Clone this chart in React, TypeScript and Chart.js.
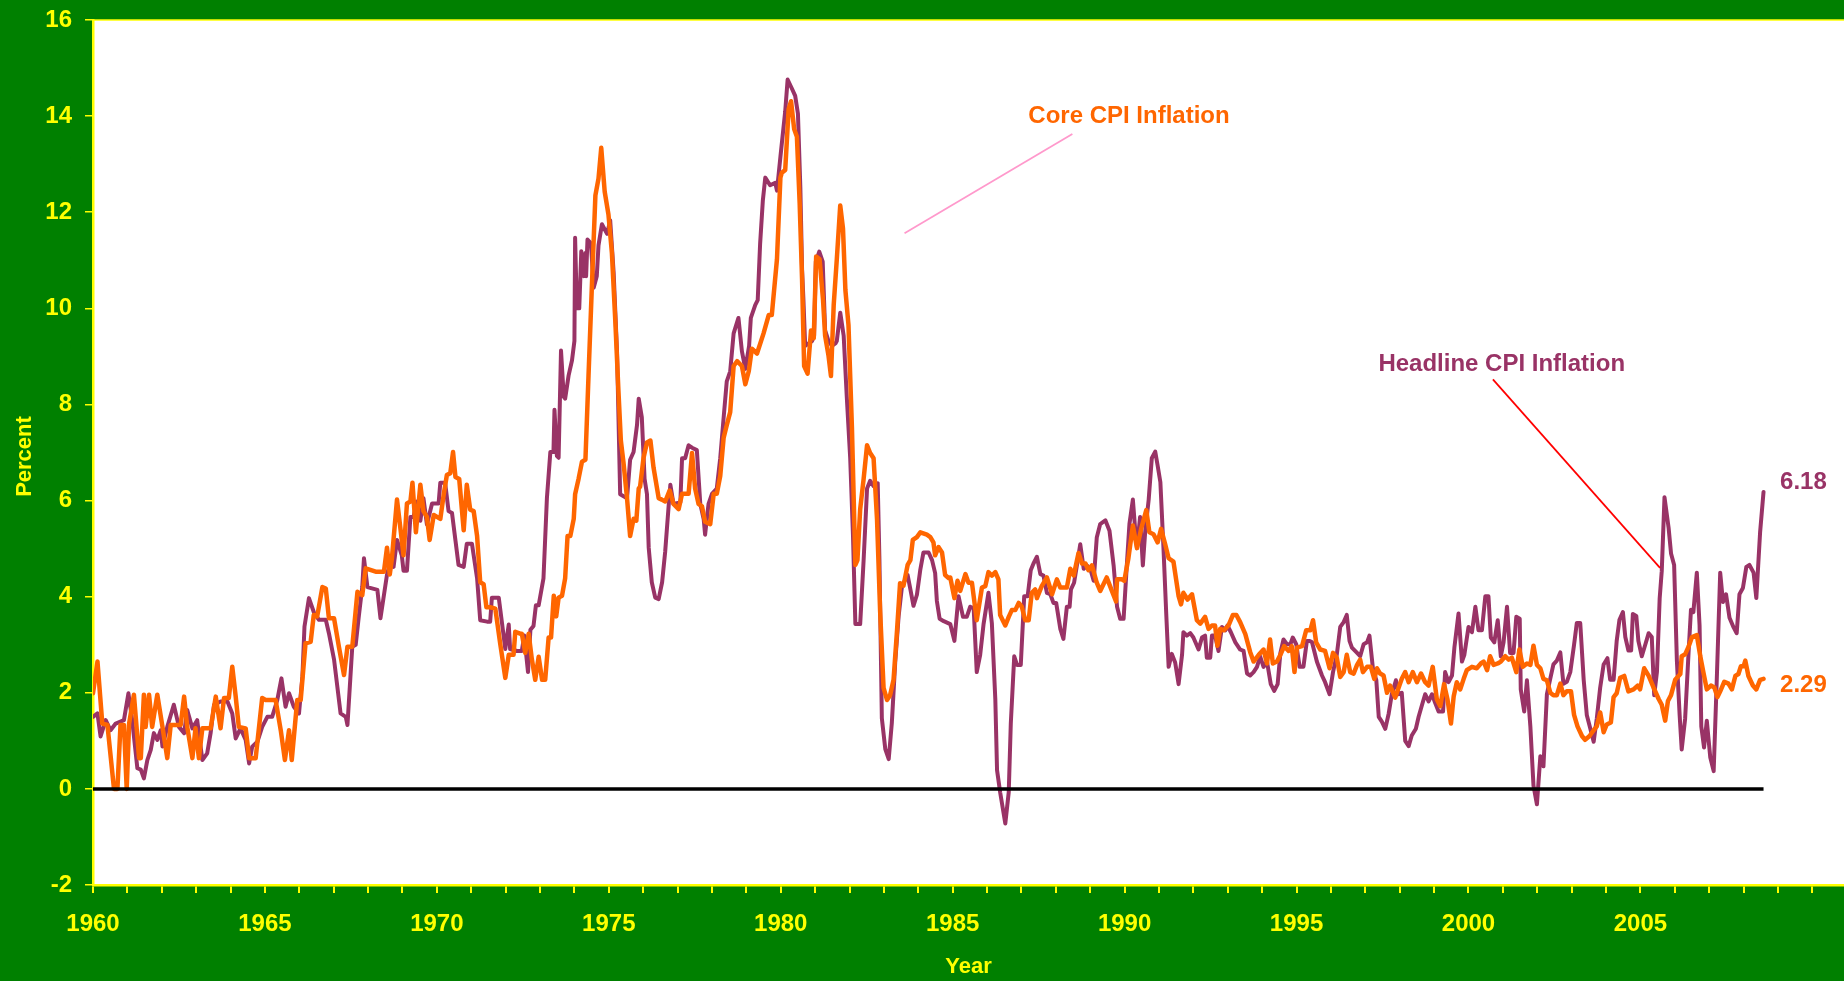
import React, { useEffect, useRef } from "react";
import { Chart, registerables } from "chart.js";

Chart.register(...registerables);

const W = 1844;
const H = 981;
const GREEN = "#008000";
const YELLOW = "#FFFF00";
const PURPLE = "#993366";
const ORANGE = "#FF6600";
const FONT = "'Liberation Sans', Arial, Helvetica, sans-serif";

// Headline CPI inflation, [year, percent]
const headlineSeries: [number, number][] = [
  [1960.0, 1.5], [1960.13, 1.57], [1960.22, 1.09], [1960.37, 1.43], [1960.51, 1.22], [1960.66, 1.36], [1960.9, 1.43],
  [1961.03, 1.99], [1961.14, 1.43], [1961.29, 0.43], [1961.39, 0.4], [1961.48, 0.22], [1961.58, 0.6], [1961.68, 0.81],
  [1961.77, 1.16], [1961.87, 1.02], [1961.97, 1.22], [1962.02, 0.88], [1962.16, 1.29], [1962.35, 1.75], [1962.5, 1.29],
  [1962.65, 1.16], [1962.74, 1.64], [1962.89, 1.26], [1963.03, 1.43], [1963.18, 0.6], [1963.32, 0.74], [1963.42, 1.16],
  [1963.52, 1.75], [1963.71, 1.82], [1963.91, 1.82], [1964.05, 1.57], [1964.15, 1.05], [1964.29, 1.26], [1964.44, 1.02],
  [1964.54, 0.53], [1964.63, 0.88], [1964.78, 0.98], [1964.92, 1.29], [1965.07, 1.5], [1965.21, 1.5], [1965.36, 1.85],
  [1965.48, 2.3], [1965.6, 1.71], [1965.7, 1.99], [1965.84, 1.71], [1965.99, 1.57], [1966.09, 2.34], [1966.15, 3.38],
  [1966.28, 3.97], [1966.43, 3.66], [1966.57, 3.52], [1966.77, 3.52], [1966.86, 3.24], [1967.01, 2.69], [1967.2, 1.57],
  [1967.35, 1.5], [1967.4, 1.33], [1967.54, 2.96], [1967.64, 3.0], [1967.73, 3.59], [1967.83, 4.2], [1967.88, 4.8],
  [1967.98, 4.2], [1968.27, 4.14], [1968.36, 3.55], [1968.55, 4.46], [1968.64, 4.7], [1968.74, 4.62], [1968.84, 5.18],
  [1968.98, 4.86], [1969.03, 4.54], [1969.13, 4.54], [1969.23, 5.66], [1969.32, 5.66], [1969.42, 5.98], [1969.52, 5.58],
  [1969.61, 6.05], [1969.71, 5.5], [1969.86, 5.94], [1970.05, 5.94], [1970.1, 6.37], [1970.24, 6.37], [1970.34, 5.78],
  [1970.44, 5.74], [1970.63, 4.66], [1970.78, 4.62], [1970.87, 5.1], [1971.02, 5.1], [1971.17, 4.38], [1971.26, 3.51],
  [1971.46, 3.48], [1971.55, 3.48], [1971.6, 3.98], [1971.8, 3.98], [1971.99, 2.91], [1972.09, 3.42], [1972.13, 2.91],
  [1972.33, 2.87], [1972.47, 2.87], [1972.54, 3.19], [1972.65, 2.43], [1972.72, 3.31], [1972.81, 3.39], [1972.88, 3.82],
  [1972.96, 3.82], [1973.1, 4.38], [1973.2, 6.05], [1973.3, 7.01], [1973.39, 7.01], [1973.42, 7.89], [1973.49, 6.93],
  [1973.54, 6.89], [1973.61, 9.12], [1973.69, 8.16], [1973.73, 8.12], [1973.83, 8.6], [1973.93, 8.92], [1974.0, 9.32],
  [1974.02, 11.47], [1974.07, 10.0], [1974.14, 10.0], [1974.2, 11.19], [1974.27, 10.67], [1974.32, 11.15], [1974.34, 10.67],
  [1974.38, 11.43], [1974.48, 11.35], [1974.56, 10.43], [1974.65, 10.67], [1974.7, 11.31], [1974.8, 11.75], [1974.95, 11.55],
  [1975.04, 11.83], [1975.14, 10.75], [1975.24, 9.08], [1975.33, 6.13], [1975.43, 6.09], [1975.53, 6.05], [1975.62, 6.85],
  [1975.72, 7.01], [1975.82, 7.57], [1975.87, 8.12], [1975.96, 7.73], [1976.04, 6.45], [1976.11, 6.13], [1976.16, 5.02],
  [1976.25, 4.3], [1976.35, 3.98], [1976.45, 3.95], [1976.55, 4.3], [1976.64, 4.94], [1976.74, 5.89], [1976.79, 6.33],
  [1976.88, 5.93], [1977.08, 5.96], [1977.13, 6.88], [1977.22, 6.88], [1977.32, 7.15], [1977.42, 7.1], [1977.56, 7.05],
  [1977.66, 5.93], [1977.76, 5.61], [1977.8, 5.29], [1977.9, 5.93], [1978.0, 6.14], [1978.14, 6.25], [1978.24, 6.88],
  [1978.34, 7.73], [1978.43, 8.48], [1978.53, 8.69], [1978.63, 9.48], [1978.77, 9.8], [1978.87, 9.11], [1978.97, 8.74],
  [1979.08, 9.22], [1979.13, 9.8], [1979.26, 10.07], [1979.33, 10.17], [1979.4, 11.34], [1979.48, 12.25], [1979.55, 12.72],
  [1979.69, 12.56], [1979.84, 12.61], [1979.89, 12.45], [1979.99, 13.15], [1980.13, 14.1], [1980.2, 14.76], [1980.32, 14.58],
  [1980.42, 14.42], [1980.5, 14.05], [1980.57, 12.51], [1980.62, 10.81], [1980.66, 10.17], [1980.71, 9.22], [1980.81, 9.27],
  [1980.91, 9.32], [1980.97, 9.43], [1981.02, 10.97], [1981.12, 11.18], [1981.22, 10.97], [1981.29, 9.54], [1981.39, 9.32],
  [1981.49, 9.22], [1981.59, 9.27], [1981.63, 9.32], [1981.73, 9.91], [1981.83, 9.43], [1981.92, 8.16], [1982.02, 6.88],
  [1982.1, 5.29], [1982.17, 3.43], [1982.31, 3.43], [1982.41, 4.76], [1982.51, 6.25], [1982.6, 6.41], [1982.7, 6.3],
  [1982.82, 6.36], [1982.87, 4.76], [1982.94, 1.47], [1983.04, 0.83], [1983.14, 0.62], [1983.23, 1.37], [1983.33, 2.65],
  [1983.43, 3.61], [1983.52, 4.18], [1983.62, 4.36], [1983.69, 4.45], [1983.77, 4.15], [1983.86, 3.81], [1983.96, 4.04],
  [1984.06, 4.57], [1984.15, 4.92], [1984.3, 4.92], [1984.4, 4.76], [1984.49, 4.49], [1984.54, 3.91], [1984.62, 3.54],
  [1984.74, 3.49], [1984.93, 3.43], [1985.05, 3.08], [1985.17, 4.01], [1985.3, 3.58], [1985.41, 3.58], [1985.51, 3.79],
  [1985.61, 3.76], [1985.7, 2.43], [1985.8, 2.79], [1985.9, 3.44], [1986.04, 4.08], [1986.14, 3.44], [1986.24, 1.86],
  [1986.29, 0.39], [1986.38, -0.07], [1986.53, -0.72], [1986.63, -0.07], [1986.69, 1.36], [1986.79, 2.76], [1986.87, 2.58],
  [1986.98, 2.58], [1987.08, 4.01], [1987.18, 4.01], [1987.27, 4.55], [1987.35, 4.69], [1987.45, 4.83], [1987.55, 4.47],
  [1987.64, 4.44], [1987.74, 4.08], [1987.84, 4.05], [1987.93, 3.87], [1988.01, 3.87], [1988.13, 3.33], [1988.22, 3.12],
  [1988.32, 3.79], [1988.4, 3.79], [1988.44, 4.15], [1988.53, 4.29], [1988.63, 4.73], [1988.71, 5.09], [1988.81, 4.58],
  [1988.9, 4.65], [1989.0, 4.58], [1989.1, 4.33], [1989.19, 5.23], [1989.29, 5.51], [1989.44, 5.59], [1989.56, 5.37],
  [1989.68, 4.65], [1989.78, 3.79], [1989.87, 3.54], [1989.97, 3.54], [1990.07, 4.73], [1990.14, 5.51], [1990.24, 6.02],
  [1990.31, 5.37], [1990.36, 5.01], [1990.45, 5.66], [1990.53, 4.65], [1990.6, 5.37], [1990.7, 6.02], [1990.79, 6.88],
  [1990.89, 7.02], [1990.96, 6.73], [1991.04, 6.38], [1991.13, 5.01], [1991.21, 3.65], [1991.28, 2.54], [1991.37, 2.81],
  [1991.47, 2.63], [1991.57, 2.18], [1991.67, 2.79], [1991.71, 3.26], [1991.81, 3.19], [1991.91, 3.24], [1992.0, 3.15],
  [1992.15, 2.9], [1992.25, 3.15], [1992.34, 3.19], [1992.39, 2.73], [1992.49, 2.73], [1992.54, 3.19], [1992.63, 3.19],
  [1992.73, 2.87], [1992.83, 3.37], [1992.93, 3.3], [1992.99, 3.4], [1993.09, 3.26], [1993.22, 3.05], [1993.36, 2.9],
  [1993.46, 2.87], [1993.56, 2.4], [1993.65, 2.36], [1993.75, 2.43], [1993.85, 2.54], [1993.94, 2.76], [1994.04, 2.54],
  [1994.14, 2.65], [1994.25, 2.18], [1994.35, 2.04], [1994.45, 2.18], [1994.53, 2.83], [1994.62, 3.11], [1994.72, 3.01],
  [1994.82, 3.01], [1994.89, 3.15], [1994.99, 3.01], [1995.09, 2.54], [1995.2, 2.54], [1995.3, 3.08], [1995.38, 3.08],
  [1995.45, 3.05], [1995.59, 2.65], [1995.74, 2.36], [1995.83, 2.22], [1995.96, 1.97], [1996.06, 2.43], [1996.17, 2.79],
  [1996.27, 3.37], [1996.37, 3.47], [1996.46, 3.62], [1996.54, 3.08], [1996.61, 2.94], [1996.76, 2.83], [1996.85, 2.76],
  [1996.95, 3.01], [1997.05, 3.05], [1997.12, 3.19], [1997.22, 2.51], [1997.32, 2.26], [1997.39, 1.5], [1997.48, 1.4],
  [1997.58, 1.25], [1997.68, 1.57], [1997.77, 1.97], [1997.89, 2.26], [1997.97, 1.97], [1998.06, 2.0], [1998.16, 1.0],
  [1998.26, 0.89], [1998.35, 1.11], [1998.47, 1.25], [1998.55, 1.5], [1998.65, 1.75], [1998.74, 1.97], [1998.84, 1.82],
  [1998.94, 1.97], [1999.03, 1.79], [1999.13, 1.61], [1999.26, 1.61], [1999.32, 2.43], [1999.42, 2.22], [1999.52, 2.36],
  [1999.59, 2.94], [1999.71, 3.65], [1999.81, 2.65], [1999.88, 2.79], [2000.0, 3.37], [2000.1, 3.26], [2000.2, 3.79],
  [2000.29, 3.3], [2000.39, 3.3], [2000.49, 4.01], [2000.58, 4.01], [2000.65, 3.15], [2000.75, 3.05], [2000.85, 3.51],
  [2000.94, 2.76], [2001.02, 3.05], [2001.12, 3.79], [2001.21, 2.83], [2001.31, 2.83], [2001.39, 3.58], [2001.49, 3.54],
  [2001.52, 2.07], [2001.62, 1.61], [2001.7, 2.26], [2001.8, 1.29], [2001.89, 0.07], [2001.99, -0.32], [2002.09, 0.68],
  [2002.18, 0.47], [2002.28, 1.97], [2002.38, 2.3], [2002.47, 2.59], [2002.57, 2.67], [2002.67, 2.84], [2002.76, 2.19],
  [2002.86, 2.23], [2002.96, 2.43], [2003.07, 3.0], [2003.15, 3.45], [2003.25, 3.45], [2003.35, 2.27], [2003.44, 1.54],
  [2003.54, 1.26], [2003.64, 0.98], [2003.73, 1.46], [2003.83, 2.11], [2003.93, 2.59], [2004.04, 2.72], [2004.12, 2.27],
  [2004.22, 2.27], [2004.31, 3.08], [2004.39, 3.52], [2004.49, 3.68], [2004.56, 3.16], [2004.65, 2.88], [2004.73, 2.88],
  [2004.78, 3.64], [2004.88, 3.6], [2004.94, 3.08], [2005.04, 2.76], [2005.14, 3.0], [2005.24, 3.24], [2005.33, 3.16],
  [2005.4, 1.95], [2005.48, 2.43], [2005.56, 3.97], [2005.62, 4.53], [2005.7, 6.07], [2005.82, 5.43], [2005.89, 4.9],
  [2005.98, 4.66], [2006.06, 2.67], [2006.14, 1.54], [2006.2, 0.82], [2006.3, 1.46], [2006.4, 2.84], [2006.47, 3.73],
  [2006.54, 3.68], [2006.64, 4.5], [2006.72, 3.4], [2006.77, 1.3], [2006.85, 0.86], [2006.93, 1.42], [2007.03, 0.66],
  [2007.13, 0.37], [2007.22, 2.27], [2007.32, 4.5], [2007.4, 3.89], [2007.49, 4.05], [2007.59, 3.56], [2007.71, 3.36],
  [2007.8, 3.24], [2007.88, 4.05], [2007.98, 4.18], [2008.08, 4.62], [2008.17, 4.66], [2008.29, 4.5], [2008.37, 3.97],
  [2008.48, 5.34], [2008.58, 6.18],
];

// Core CPI inflation, [year, percent]
const coreSeries: [number, number][] = [
  [1960.0, 1.99], [1960.13, 2.65], [1960.27, 1.36], [1960.42, 1.33], [1960.61, 0.0], [1960.71, 0.0], [1960.8, 1.33],
  [1960.9, 1.33], [1960.98, 0.0], [1961.05, 1.36], [1961.19, 1.96], [1961.34, 0.64], [1961.39, 0.64], [1961.48, 1.96],
  [1961.53, 1.29], [1961.63, 1.96], [1961.72, 1.29], [1961.87, 1.96], [1962.02, 1.29], [1962.16, 0.64], [1962.26, 1.33],
  [1962.55, 1.33], [1962.65, 1.92], [1962.74, 1.29], [1962.89, 0.64], [1962.98, 1.26], [1963.08, 0.64], [1963.18, 1.26],
  [1963.42, 1.26], [1963.57, 1.92], [1963.71, 1.26], [1963.81, 1.89], [1963.95, 1.89], [1964.05, 2.54], [1964.15, 1.92],
  [1964.24, 1.29], [1964.44, 1.26], [1964.54, 0.64], [1964.73, 0.64], [1964.92, 1.89], [1965.02, 1.85], [1965.31, 1.85],
  [1965.46, 1.22], [1965.58, 0.6], [1965.7, 1.22], [1965.78, 0.6], [1965.94, 1.85], [1966.04, 1.85], [1966.18, 3.03],
  [1966.33, 3.06], [1966.42, 3.62], [1966.52, 3.59], [1966.67, 4.2], [1966.77, 4.17], [1966.86, 3.55], [1967.01, 3.55],
  [1967.15, 2.96], [1967.3, 2.37], [1967.4, 2.96], [1967.54, 2.96], [1967.69, 4.1], [1967.83, 4.03], [1967.93, 4.59],
  [1968.22, 4.52], [1968.46, 4.52], [1968.55, 5.02], [1968.63, 4.46], [1968.69, 4.78], [1968.84, 6.02], [1968.94, 5.42],
  [1969.03, 4.86], [1969.13, 5.94], [1969.23, 5.98], [1969.29, 6.37], [1969.39, 5.34], [1969.52, 6.33], [1969.61, 5.78],
  [1969.71, 5.66], [1969.79, 5.18], [1969.91, 5.7], [1970.1, 5.62], [1970.2, 6.13], [1970.29, 6.53], [1970.39, 6.57],
  [1970.47, 7.01], [1970.54, 6.49], [1970.65, 6.45], [1970.78, 5.38], [1970.87, 6.33], [1970.97, 5.81], [1971.07, 5.78],
  [1971.17, 5.26], [1971.26, 4.3], [1971.36, 4.26], [1971.44, 3.78], [1971.55, 3.78], [1971.7, 3.75], [1971.84, 3.03],
  [1971.99, 2.31], [1972.09, 2.79], [1972.23, 2.79], [1972.28, 3.27], [1972.42, 3.23], [1972.47, 3.23], [1972.57, 2.83],
  [1972.67, 3.23], [1972.76, 2.71], [1972.86, 2.27], [1972.96, 2.75], [1973.06, 2.27], [1973.15, 2.27], [1973.25, 3.15],
  [1973.32, 3.15], [1973.4, 4.02], [1973.47, 3.59], [1973.54, 3.98], [1973.64, 4.02], [1973.73, 4.38], [1973.8, 5.26],
  [1973.88, 5.26], [1973.98, 5.62], [1974.02, 6.13], [1974.12, 6.45], [1974.22, 6.81], [1974.32, 6.85], [1974.41, 8.6],
  [1974.51, 10.51], [1974.61, 12.35], [1974.7, 12.7], [1974.78, 13.34], [1974.88, 12.43], [1974.99, 11.95], [1975.09, 11.15],
  [1975.19, 9.72], [1975.28, 8.28], [1975.35, 7.25], [1975.43, 6.77], [1975.53, 6.05], [1975.62, 5.26], [1975.72, 5.62],
  [1975.8, 5.58], [1975.87, 6.25], [1975.91, 6.29], [1976.01, 6.89], [1976.11, 7.21], [1976.21, 7.25], [1976.3, 6.69],
  [1976.45, 6.05], [1976.54, 6.02], [1976.64, 5.98], [1976.77, 6.21], [1976.88, 5.93], [1977.03, 5.82], [1977.13, 6.14],
  [1977.32, 6.14], [1977.42, 6.99], [1977.51, 6.25], [1977.61, 5.93], [1977.71, 5.88], [1977.8, 5.56], [1977.95, 5.51],
  [1978.05, 6.14], [1978.14, 6.14], [1978.24, 6.51], [1978.34, 7.31], [1978.43, 7.57], [1978.53, 7.84], [1978.63, 8.8],
  [1978.73, 8.9], [1978.87, 8.8], [1978.97, 8.42], [1979.07, 8.69], [1979.16, 9.16], [1979.31, 9.06], [1979.5, 9.48],
  [1979.65, 9.86], [1979.74, 9.86], [1979.89, 11.02], [1979.99, 12.72], [1980.03, 12.82], [1980.13, 12.88], [1980.23, 14.15],
  [1980.3, 14.31], [1980.39, 13.73], [1980.47, 13.57], [1980.55, 12.19], [1980.62, 10.6], [1980.68, 8.8], [1980.78, 8.64],
  [1980.88, 9.54], [1980.96, 9.38], [1981.03, 11.08], [1981.13, 11.02], [1981.23, 10.17], [1981.29, 9.43], [1981.39, 9.01],
  [1981.46, 8.59], [1981.54, 10.07], [1981.63, 11.02], [1981.73, 12.14], [1981.81, 11.66], [1981.88, 10.38], [1981.97, 9.65],
  [1982.07, 7.52], [1982.17, 4.66], [1982.23, 4.76], [1982.31, 5.82], [1982.41, 6.45], [1982.51, 7.15], [1982.6, 6.99],
  [1982.7, 6.88], [1982.8, 5.61], [1982.89, 3.7], [1982.99, 2.1], [1983.09, 1.85], [1983.18, 1.95], [1983.28, 2.27],
  [1983.38, 3.28], [1983.47, 4.28], [1983.57, 4.23], [1983.69, 4.66], [1983.77, 4.76], [1983.84, 5.18], [1983.96, 5.24],
  [1984.06, 5.34], [1984.25, 5.29], [1984.35, 5.24], [1984.44, 5.13], [1984.49, 4.86], [1984.59, 5.03], [1984.69, 4.92],
  [1984.78, 4.45], [1984.88, 4.39], [1984.93, 4.4], [1985.05, 3.97], [1985.14, 4.33], [1985.22, 4.12], [1985.37, 4.47],
  [1985.46, 4.29], [1985.56, 4.29], [1985.7, 3.51], [1985.85, 4.19], [1985.95, 4.22], [1986.04, 4.51], [1986.14, 4.44],
  [1986.24, 4.51], [1986.33, 4.36], [1986.38, 3.62], [1986.53, 3.4], [1986.63, 3.58], [1986.72, 3.72], [1986.82, 3.72],
  [1986.92, 3.87], [1987.01, 3.79], [1987.11, 3.51], [1987.21, 3.51], [1987.3, 4.08], [1987.4, 4.15], [1987.45, 3.97],
  [1987.59, 4.22], [1987.74, 4.4], [1987.89, 4.05], [1988.03, 4.36], [1988.13, 4.19], [1988.32, 4.19], [1988.42, 4.58],
  [1988.52, 4.44], [1988.66, 4.91], [1988.76, 4.69], [1988.86, 4.69], [1988.95, 4.55], [1989.05, 4.65], [1989.19, 4.29],
  [1989.29, 4.12], [1989.48, 4.4], [1989.63, 4.12], [1989.75, 3.9], [1989.78, 4.36], [1989.92, 4.36], [1989.99, 4.33],
  [1990.11, 4.8], [1990.24, 5.48], [1990.36, 5.01], [1990.48, 5.41], [1990.63, 5.8], [1990.72, 5.34], [1990.84, 5.3],
  [1990.96, 5.13], [1991.06, 5.41], [1991.18, 5.09], [1991.28, 4.8], [1991.42, 4.73], [1991.57, 4.01], [1991.64, 3.84],
  [1991.71, 4.08], [1991.83, 3.94], [1991.96, 4.05], [1992.1, 3.51], [1992.2, 3.44], [1992.34, 3.58], [1992.44, 3.33],
  [1992.54, 3.4], [1992.63, 3.4], [1992.7, 2.98], [1992.78, 3.33], [1992.88, 3.3], [1993.02, 3.4], [1993.15, 3.62],
  [1993.25, 3.62], [1993.36, 3.47], [1993.51, 3.22], [1993.65, 2.85], [1993.75, 2.65], [1993.9, 2.79], [1994.04, 2.9],
  [1994.14, 2.61], [1994.23, 3.11], [1994.31, 2.61], [1994.43, 2.65], [1994.53, 2.79], [1994.64, 2.97], [1994.77, 2.87],
  [1994.86, 2.97], [1994.94, 2.43], [1995.01, 2.94], [1995.16, 2.97], [1995.28, 3.3], [1995.4, 3.3], [1995.48, 3.51],
  [1995.57, 3.05], [1995.69, 2.9], [1995.83, 2.87], [1995.96, 2.51], [1996.06, 2.83], [1996.17, 2.73], [1996.27, 2.33],
  [1996.37, 2.43], [1996.46, 2.79], [1996.56, 2.43], [1996.66, 2.4], [1996.76, 2.58], [1996.85, 2.69], [1996.93, 2.43],
  [1997.05, 2.54], [1997.16, 2.54], [1997.26, 2.29], [1997.34, 2.51], [1997.43, 2.4], [1997.53, 2.36], [1997.63, 2.0],
  [1997.72, 2.15], [1997.87, 1.9], [1997.97, 2.11], [1998.06, 2.29], [1998.16, 2.43], [1998.26, 2.22], [1998.38, 2.43],
  [1998.5, 2.22], [1998.62, 2.4], [1998.74, 2.22], [1998.84, 2.15], [1998.96, 2.54], [1999.08, 1.86], [1999.18, 1.72],
  [1999.29, 2.18], [1999.39, 1.86], [1999.49, 1.36], [1999.57, 1.93], [1999.66, 2.22], [1999.76, 2.07], [1999.86, 2.29],
  [1999.95, 2.47], [2000.1, 2.54], [2000.24, 2.51], [2000.36, 2.61], [2000.44, 2.65], [2000.54, 2.47], [2000.63, 2.76],
  [2000.73, 2.58], [2000.85, 2.61], [2000.94, 2.65], [2001.07, 2.76], [2001.17, 2.69], [2001.26, 2.73], [2001.39, 2.43],
  [2001.48, 2.9], [2001.58, 2.54], [2001.7, 2.61], [2001.8, 2.58], [2001.89, 2.98], [2001.99, 2.58], [2002.09, 2.51],
  [2002.18, 2.29], [2002.28, 2.26], [2002.38, 2.0], [2002.47, 1.95], [2002.57, 1.95], [2002.67, 2.19], [2002.76, 1.95],
  [2002.86, 2.03], [2002.98, 2.03], [2003.07, 1.54], [2003.17, 1.3], [2003.3, 1.1], [2003.39, 1.02], [2003.52, 1.1],
  [2003.64, 1.22], [2003.73, 1.3], [2003.83, 1.59], [2003.93, 1.18], [2004.02, 1.34], [2004.14, 1.38], [2004.22, 1.91],
  [2004.31, 1.99], [2004.41, 2.31], [2004.53, 2.35], [2004.65, 2.03], [2004.8, 2.07], [2004.92, 2.15], [2004.99, 2.07],
  [2005.11, 2.51], [2005.24, 2.35], [2005.38, 2.11], [2005.53, 1.87], [2005.62, 1.75], [2005.72, 1.42], [2005.8, 1.83],
  [2005.89, 1.95], [2006.01, 2.27], [2006.16, 2.39], [2006.2, 2.76], [2006.3, 2.8], [2006.4, 2.96], [2006.5, 3.16],
  [2006.64, 3.2], [2006.74, 2.76], [2006.83, 2.43], [2006.93, 2.07], [2007.05, 2.15], [2007.15, 2.11], [2007.24, 1.91],
  [2007.32, 2.03], [2007.44, 2.23], [2007.56, 2.19], [2007.66, 2.07], [2007.76, 2.35], [2007.85, 2.39], [2007.92, 2.55],
  [2008.0, 2.55], [2008.05, 2.67], [2008.14, 2.35], [2008.27, 2.15], [2008.37, 2.07], [2008.48, 2.27], [2008.58, 2.29],
];

const zeroLineYears = [1960.0, 2008.58];
const xTickYears = [
  1960, 1961, 1962, 1963, 1964, 1965, 1966, 1967, 1968, 1969, 1970, 1971, 1972, 1973, 1974, 1975, 1976,
  1977, 1978, 1979, 1980, 1981, 1982, 1983, 1984, 1985, 1986, 1987, 1988, 1989, 1990, 1991, 1992, 1993,
  1994, 1995, 1996, 1997, 1998, 1999, 2000, 2001, 2002, 2003, 2004, 2005, 2006, 2007, 2008, 2009, 2010,
];
const xLabelYears = [1960, 1965, 1970, 1975, 1980, 1985, 1990, 1995, 2000, 2005];
const yTickValues = [-2, 0, 2, 4, 6, 8, 10, 12, 14, 16];

// Annotations, anchored in data coordinates [year, percent]
const coreLabel = { text: "Core CPI Inflation", at: [1987.2, 13.86] };
const coreLeader = { from: [1983.6, 11.56], to: [1988.48, 13.63], color: "#FF99CC" };
const headlineLabel = { text: "Headline CPI Inflation", at: [1997.38, 8.7] };
const headlineLeader = { from: [2000.71, 8.52], to: [2005.57, 4.6], color: "#FF0000" };
const endLabelYear = 2009.06;
const headlineEndOffsetPct = 0.19;
const coreEndOffsetPct = -0.13;

const toXY = (s: [number, number][]) => s.map(([x, y]) => ({ x, y }));

const bgPlugin = {
  id: "bgPlugin",
  beforeDraw(chart: any) {
    const { ctx, chartArea: a } = chart;
    ctx.save();
    ctx.fillStyle = GREEN;
    ctx.fillRect(0, 0, chart.width, chart.height);
    ctx.fillStyle = "#FFFFFF";
    ctx.fillRect(a.left, a.top, a.right - a.left, a.bottom - a.top);
    ctx.strokeStyle = YELLOW;
    ctx.lineWidth = 1.5;
    ctx.beginPath();
    ctx.moveTo(a.left, a.top);
    ctx.lineTo(a.right, a.top);
    ctx.stroke();
    ctx.restore();
  },
};

const annotationPlugin = {
  id: "annotationPlugin",
  afterDatasetsDraw(chart: any) {
    const { ctx, scales, chartArea: a } = chart;
    const xs = scales.x;
    const ys = scales.y;
    const px = (v: number) => xs.getPixelForValue(v);
    const py = (v: number) => ys.getPixelForValue(v);
    ctx.save();
    for (const l of [coreLeader, headlineLeader]) {
      ctx.strokeStyle = l.color;
      ctx.lineWidth = 1.75;
      ctx.beginPath();
      ctx.moveTo(px(l.from[0]), py(l.from[1]));
      ctx.lineTo(px(l.to[0]), py(l.to[1]));
      ctx.stroke();
    }
    ctx.font = `bold 24px ${FONT}`;
    ctx.textAlign = "left";
    ctx.textBaseline = "alphabetic";
    ctx.fillStyle = ORANGE;
    ctx.fillText(coreLabel.text, px(coreLabel.at[0]), py(coreLabel.at[1]));
    ctx.fillStyle = PURPLE;
    ctx.fillText(headlineLabel.text, px(headlineLabel.at[0]), py(headlineLabel.at[1]));

    const hLast = headlineSeries[headlineSeries.length - 1][1];
    const cLast = coreSeries[coreSeries.length - 1][1];
    ctx.textBaseline = "middle";
    ctx.fillStyle = PURPLE;
    ctx.fillText(hLast.toFixed(2), px(endLabelYear), py(hLast + headlineEndOffsetPct));
    ctx.fillStyle = ORANGE;
    ctx.fillText(cLast.toFixed(2), px(endLabelYear), py(cLast + coreEndOffsetPct));

    // axis titles
    ctx.fillStyle = YELLOW;
    ctx.font = `bold 22px ${FONT}`;
    ctx.textAlign = "center";
    ctx.textBaseline = "middle";
    ctx.fillText("Year", (a.left + a.right) / 2, 967);
    ctx.translate(31, (a.top + a.bottom) / 2 + 4);
    ctx.rotate(-Math.PI / 2);
    ctx.textBaseline = "alphabetic";
    ctx.fillText("Percent", 0, 0);
    ctx.restore();
  },
};

export default function App() {
  const ref = useRef<HTMLCanvasElement | null>(null);

  useEffect(() => {
    if (!ref.current) return;
    const tickFont = { family: FONT, size: 24, weight: "bold" as const };
    const chart = new Chart(ref.current, {
      type: "line",
      data: {
        datasets: [
          {
            label: "Zero",
            data: zeroLineYears.map((x) => ({ x, y: 0 })),
            borderColor: "#000000",
            borderWidth: 3.5,
            pointRadius: 0,
            order: 0,
          },
          {
            label: "Core CPI Inflation",
            data: toXY(coreSeries),
            borderColor: ORANGE,
            borderWidth: 4.5,
            pointRadius: 0,
            borderJoinStyle: "round",
            borderCapStyle: "round",
            order: 1,
          },
          {
            label: "Headline CPI Inflation",
            data: toXY(headlineSeries),
            borderColor: PURPLE,
            borderWidth: 4,
            pointRadius: 0,
            borderJoinStyle: "round",
            borderCapStyle: "round",
            order: 2,
          },
        ],
      },
      options: {
        animation: false,
        responsive: false,
        maintainAspectRatio: false,
        devicePixelRatio: 1,
        layout: { padding: { top: 20, left: 0, right: 0, bottom: 0 }, autoPadding: false } as any,
        plugins: { legend: { display: false }, tooltip: { enabled: false }, title: { display: false } },
        elements: { line: { tension: 0 }, point: { radius: 0 } },
        scales: {
          x: {
            type: "linear",
            position: "bottom",
            min: 1960,
            max: 2010.92,
            afterBuildTicks: (scale: any) => {
              scale.ticks = xTickYears.map((v) => ({ value: v }));
            },
            afterFit: (scale: any) => {
              scale.height = 96;
              scale.paddingLeft = 0;
              scale.paddingRight = 0;
              scale.paddingTop = 0;
              scale.paddingBottom = 0;
            },
            ticks: {
              autoSkip: false,
              maxRotation: 0,
              minRotation: 0,
              color: YELLOW,
              font: tickFont,
              padding: 17,
              callback: (v: any) => (xLabelYears.includes(Number(v)) ? String(v) : ""),
            },
            grid: { drawOnChartArea: false, drawTicks: true, tickLength: 8, color: YELLOW, lineWidth: 2 },
            border: { display: true, color: YELLOW, width: 2.5 },
          },
          y: {
            type: "linear",
            min: -2,
            max: 16,
            afterBuildTicks: (scale: any) => {
              scale.ticks = yTickValues.map((v) => ({ value: v }));
            },
            afterFit: (scale: any) => {
              scale.width = 93;
              scale.paddingLeft = 0;
              scale.paddingRight = 0;
              scale.paddingTop = 0;
              scale.paddingBottom = 0;
            },
            ticks: { color: YELLOW, font: tickFont, padding: 13 },
            grid: { drawOnChartArea: false, drawTicks: true, tickLength: 8, color: YELLOW, lineWidth: 1.5 },
            border: { display: true, color: YELLOW, width: 2.5 },
          },
        },
      },
      plugins: [bgPlugin, annotationPlugin],
    } as any);
    return () => chart.destroy();
  }, []);

  return (
    <div style={{ position: "absolute", left: 0, top: 0, width: W, height: H, background: GREEN, overflow: "hidden" }}>
      <canvas ref={ref} width={W} height={H} style={{ display: "block", width: W, height: H }} />
    </div>
  );
}
